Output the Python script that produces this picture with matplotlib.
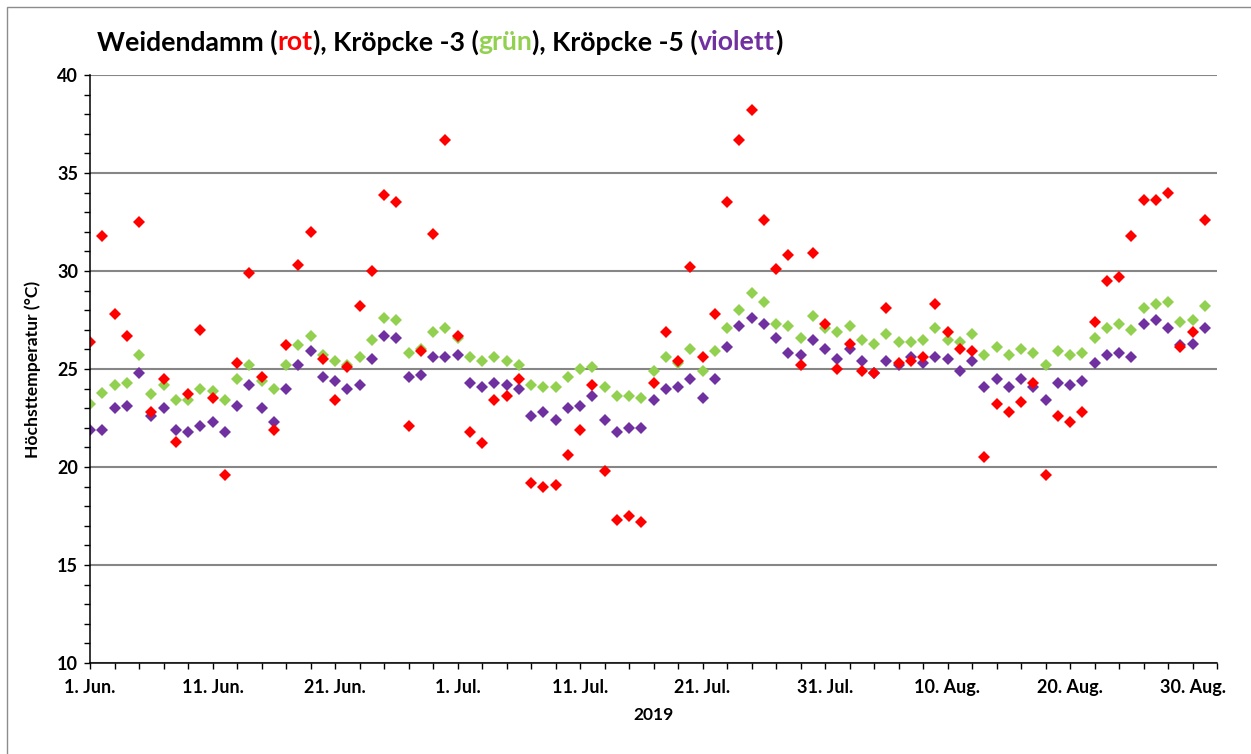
import numpy as np
import pandas as pd
import matplotlib
matplotlib.use("Agg")
import matplotlib.pyplot as plt
import matplotlib.dates as mdates
from matplotlib.ticker import MultipleLocator
from matplotlib.patches import Rectangle

plt.rcParams['font.family'] = ['Lato', 'DejaVu Sans']
plt.rcParams['font.weight'] = 'bold'

# daily maxima, 1 Jun - 31 Aug 2019
dates = pd.date_range("2019-06-01", periods=92, freq="D")

weidendamm = [26.4, 31.8, 27.8, 26.7, 32.5, 22.8, 24.5, 21.3, 23.7, 27.0,
              23.5, 19.6, 25.3, 29.9, 24.6, 21.9, 26.2, 30.3, 32.0, 25.5,
              23.4, 25.1, 28.2, 30.0, 33.9, 33.5, 22.1, 25.9, 31.9, 36.7,
              26.7, 21.8, 21.2, 23.4, 23.6, 24.5, 19.2, 19.0, 19.1, 20.6,
              21.9, 24.2, 19.8, 17.3, 17.5, 17.2, 24.3, 26.9, 25.4, 30.2,
              25.6, 27.8, 33.5, 36.7, 38.2, 32.6, 30.1, 30.8, 25.2, 30.9,
              27.3, 25.0, 26.3, 24.9, 24.8, 28.1, 25.3, 25.4, 25.6, 28.3,
              26.9, 26.0, 25.9, 20.5, 23.2, 22.8, 23.3, 24.3, 19.6, 22.6,
              22.3, 22.8, 27.4, 29.5, 29.7, 31.8, 33.6, 33.6, 34.0, 26.1,
              26.9, 32.6]

kroepcke_3 = [23.2, 23.8, 24.2, 24.3, 25.7, 23.7, 24.2, 23.4, 23.4, 24.0,
              23.9, 23.4, 24.5, 25.2, 24.4, 24.0, 25.2, 26.2, 26.7, 25.7,
              25.4, 25.2, 25.6, 26.5, 27.6, 27.5, 25.8, 26.0, 26.9, 27.1,
              26.6, 25.6, 25.4, 25.6, 25.4, 25.2, 24.2, 24.1, 24.1, 24.6,
              25.0, 25.1, 24.1, 23.6, 23.6, 23.5, 24.9, 25.6, 25.3, 26.0,
              24.9, 25.9, 27.1, 28.0, 28.9, 28.4, 27.3, 27.2, 26.6, 27.7,
              27.1, 26.9, 27.2, 26.5, 26.3, 26.8, 26.4, 26.4, 26.5, 27.1,
              26.5, 26.4, 26.8, 25.7, 26.1, 25.7, 26.0, 25.8, 25.2, 25.9,
              25.7, 25.8, 26.6, 27.1, 27.3, 27.0, 28.1, 28.3, 28.4, 27.4,
              27.5, 28.2]

kroepcke_5 = [21.9, 21.9, 23.0, 23.1, 24.8, 22.6, 23.0, 21.9, 21.8, 22.1,
              22.3, 21.8, 23.1, 24.2, 23.0, 22.3, 24.0, 25.2, 25.9, 24.6,
              24.4, 24.0, 24.2, 25.5, 26.7, 26.6, 24.6, 24.7, 25.6, 25.6,
              25.7, 24.3, 24.1, 24.3, 24.2, 24.0, 22.6, 22.8, 22.4, 23.0,
              23.1, 23.6, 22.4, 21.8, 22.0, 22.0, 23.4, 24.0, 24.1, 24.5,
              23.5, 24.5, 26.1, 27.2, 27.6, 27.3, 26.6, 25.8, 25.7, 26.5,
              26.0, 25.5, 26.0, 25.4, 24.8, 25.4, 25.2, 25.6, 25.3, 25.6,
              25.5, 24.9, 25.4, 24.1, 24.5, 24.1, 24.5, 24.1, 23.4, 24.3,
              24.2, 24.4, 25.3, 25.7, 25.8, 25.6, 27.3, 27.5, 27.1, 26.2,
              26.3, 27.1]

month_names = {6: "Jun.", 7: "Jul.", 8: "Aug."}

RED = "#FF0000"
GREEN = "#92D050"
PURPLE = "#7030A0"

W, H = 1251, 754
fig = plt.figure(figsize=(W / 100, H / 100), dpi=100)

# outer chart border (only top/left visible in the screenshot)
fig.patches.append(Rectangle((7 / W, -0.1), 1.2, 1 - 7 / H + 0.1,
                             transform=fig.transFigure, fill=False,
                             edgecolor="#8c8c8c", linewidth=1.0))

left, right, top, bottom = 90, 1217, 75, 663
ax = fig.add_axes([left / W, 1 - bottom / H, (right - left) / W, (bottom - top) / H])

x = mdates.date2num(dates)
ms = 6.2
ax.plot(x, kroepcke_5, linestyle="none", marker="D", ms=ms, mew=0, color=PURPLE, zorder=3)
ax.plot(x, kroepcke_3, linestyle="none", marker="D", ms=ms, mew=0, color=GREEN, zorder=3)
ax.plot(x, weidendamm, linestyle="none", marker="D", ms=ms, mew=0, color=RED, zorder=4)

ax.set_ylim(10, 40)
ax.set_xlim(x[0], x[0] + 92)
ax.yaxis.set_major_locator(MultipleLocator(5))
ax.yaxis.set_minor_locator(MultipleLocator(1))
ax.grid(axis="y", which="major", color="#868686", linewidth=1.5, zorder=1)
ax.set_axisbelow(True)

major = x[::10]
ax.set_xticks(major)
ax.set_xticklabels([f"{d.day}. {month_names[d.month]}" for d in dates[::10]])
ax.set_xticks(x[0] + np.arange(0, 93, 2), minor=True)

for s in ["top", "right"]:
    ax.spines[s].set_visible(False)
for s in ["left", "bottom"]:
    ax.spines[s].set_linewidth(1.1)
    ax.spines[s].set_color("black")
ax.spines["left"].set_zorder(5)

ax.tick_params(which="both", direction="out", length=4.5, width=1.0, color="black")
ax.tick_params(axis="both", which="major", labelsize=13, pad=4)
ax.tick_params(axis="x", which="major", pad=7)
for lab in ax.get_xticklabels() + ax.get_yticklabels():
    lab.set_fontweight("bold")

ax.set_ylabel("Höchsttemperatur (°C)", fontsize=12.6, fontweight="bold", labelpad=12)
ax.set_xlabel("2019", fontsize=12.5, fontweight="bold", labelpad=8)

# multi-coloured title
pieces = [("Weidendamm (", "black"), ("rot", RED), ("), Kröpcke -3 (", "black"),
          ("grün", GREEN), ("), Kröpcke -5 (", "black"), ("violett", PURPLE), (")", "black")]
renderer = fig.canvas.get_renderer()
tx = 97
for txt, col in pieces:
    t = fig.text(tx / W, 1 - 42 / H, txt, color=col, fontsize=19.2, fontweight="bold",
                 va="center", ha="left")
    tx += t.get_window_extent(renderer).width

fig.savefig("out.png", dpi=100)
